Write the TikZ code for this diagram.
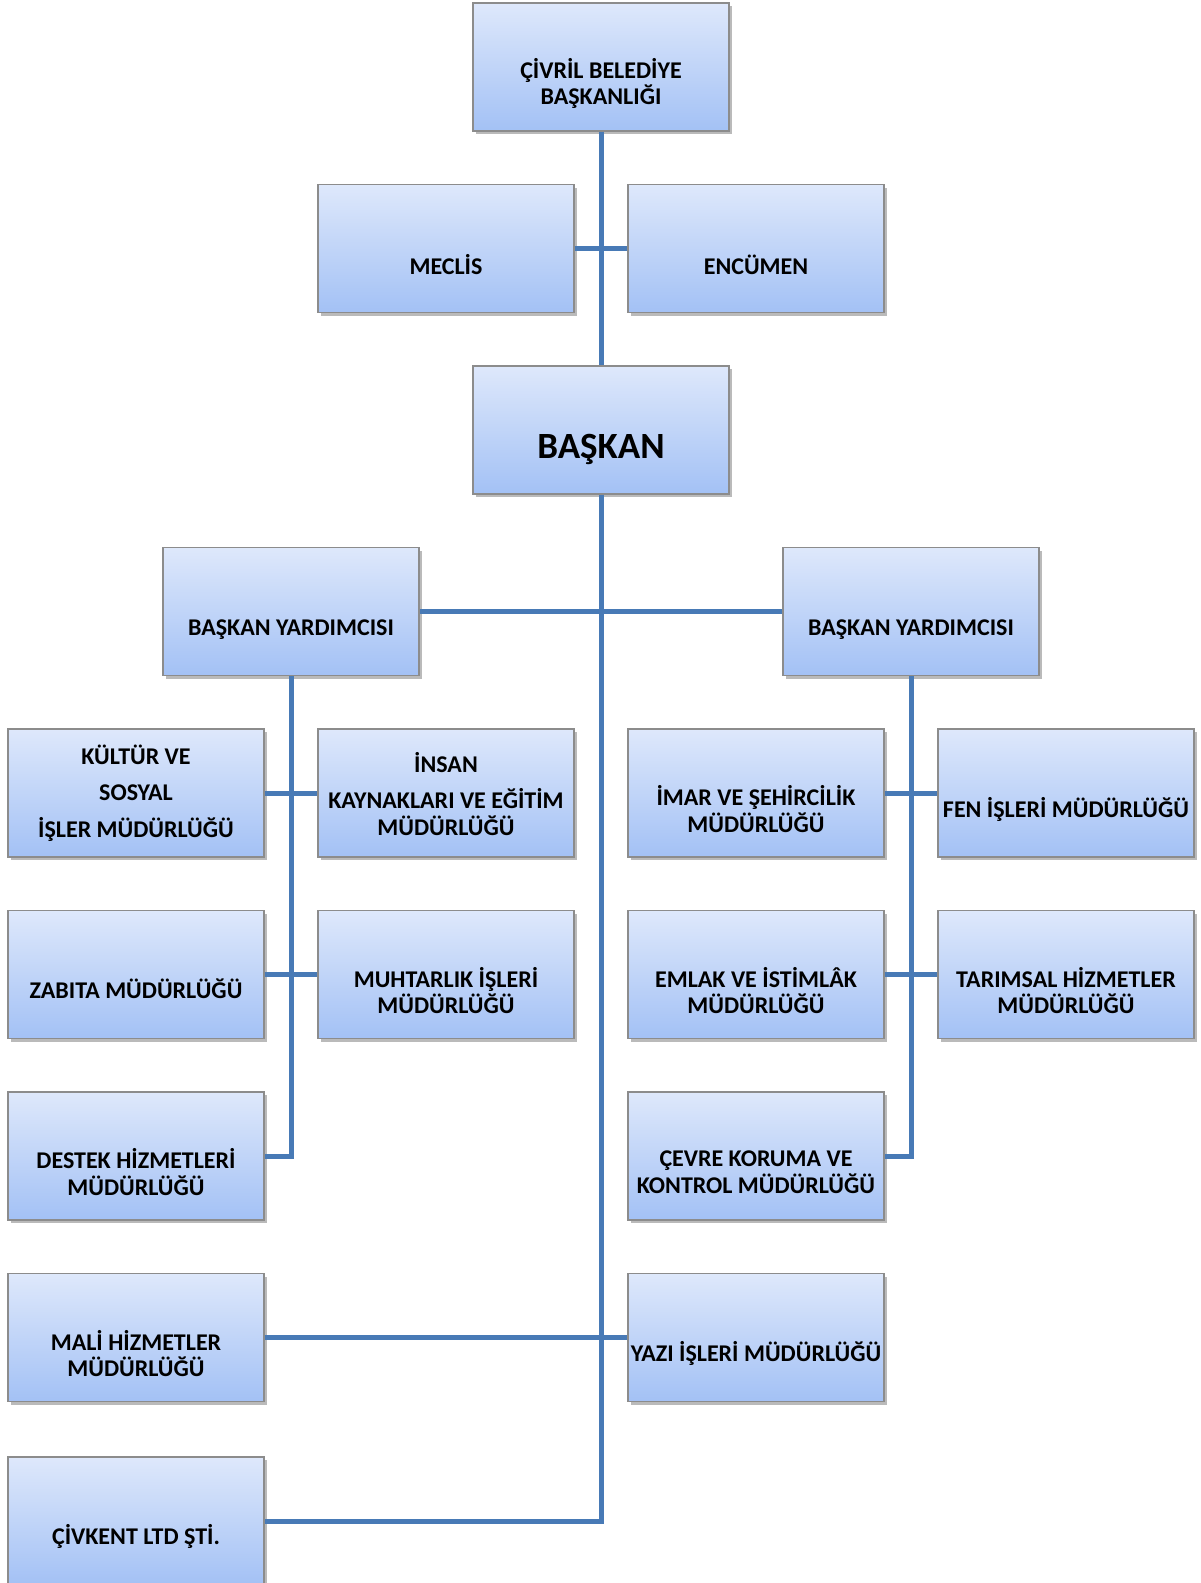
\documentclass[tikz,border=0pt]{standalone}
\usepackage{fontspec}
\setmainfont{Carlito}
\usetikzlibrary{shadows}
\definecolor{lineblue}{RGB}{72,122,182}
\definecolor{boxtop}{RGB}{222,232,251}
\definecolor{boxbot}{RGB}{163,193,245}
\definecolor{boxedge}{RGB}{140,140,140}
\begin{document}
\begin{tikzpicture}[x=1pt,y=-1pt,
  orgbox/.style={draw=boxedge, line width=1.2pt, top color=boxtop, bottom color=boxbot,
    minimum width=256pt, minimum height=128pt, inner sep=0pt,
    drop shadow={shadow xshift=2.5pt, shadow yshift=-3pt, opacity=0.45, fill=black!60}},
  lbl/.style={font=\fontsize{24}{26.5}\selectfont\bfseries, align=center, inner sep=0pt},
  biglbl/.style={font=\fontsize{37}{40}\selectfont\bfseries, align=center, inner sep=0pt},
  link/.style={draw=lineblue, line width=5pt, line join=miter}]
\useasboundingbox[fill=white] (0,0) rectangle (1200,1583);
% boxes
\node[orgbox] (top) at (601,67) {};
\node[orgbox] (meclis) at (446,248.5) {};
\node[orgbox] (encumen) at (756,248.5) {};
\node[orgbox] (baskan) at (601,430) {};
\node[orgbox] (byl) at (291,611.5) {};
\node[orgbox] (byr) at (911,611.5) {};
\node[orgbox] (kultur) at (136,793) {};
\node[orgbox] (insan) at (446,793) {};
\node[orgbox] (imar) at (756,793) {};
\node[orgbox] (fen) at (1066,793) {};
\node[orgbox] (zabita) at (136,974.5) {};
\node[orgbox] (muhtar) at (446,974.5) {};
\node[orgbox] (emlak) at (756,974.5) {};
\node[orgbox] (tarim) at (1066,974.5) {};
\node[orgbox] (destek) at (136,1156) {};
\node[orgbox] (cevre) at (756,1156) {};
\node[orgbox] (mali) at (136,1337.5) {};
\node[orgbox] (yazi) at (756,1337.5) {};
\node[orgbox] (civkent) at (136,1521) {};
% labels
\node[lbl] (top-t) at ([yshift=-16.5pt]top.center) {ÇİVRİL BELEDİYE\\BAŞKANLIĞI};
\node[lbl] (meclis-t) at ([yshift=-16pt]meclis.center) {MECLİS};
\node[lbl] (encumen-t) at ([yshift=-16pt]encumen.center) {ENCÜMEN};
\node[biglbl] (baskan-t) at ([yshift=-19pt]baskan.center) {BAŞKAN};
\node[lbl] (byl-t) at ([yshift=-18.5pt]byl.center) {BAŞKAN YARDIMCISI};
\node[lbl] (byr-t) at ([yshift=-18.5pt]byr.center) {BAŞKAN YARDIMCISI};
\node[lbl] (kultur-t) at (kultur.center) {KÜLTÜR VE\\[9.8pt]SOSYAL\\[9.8pt]İŞLER MÜDÜRLÜĞÜ};
\node[lbl] (insan-t) at ([yshift=-1pt]insan.center) {İNSAN\\[9.8pt]KAYNAKLARI VE EĞİTİM\\MÜDÜRLÜĞÜ};
\node[lbl] (imar-t) at ([yshift=-16pt]imar.center) {İMAR VE ŞEHİRCİLİK\\MÜDÜRLÜĞÜ};
\node[lbl] (fen-t) at ([yshift=-16pt]fen.center) {FEN İŞLERİ MÜDÜRLÜĞÜ};
\node[lbl] (zabita-t) at ([yshift=-14.5pt]zabita.center) {ZABITA MÜDÜRLÜĞÜ};
\node[lbl] (muhtar-t) at ([yshift=-16pt]muhtar.center) {MUHTARLIK İŞLERİ\\MÜDÜRLÜĞÜ};
\node[lbl] (emlak-t) at ([yshift=-16pt]emlak.center) {EMLAK VE İSTİMLÂK\\MÜDÜRLÜĞÜ};
\node[lbl] (tarim-t) at ([yshift=-16pt]tarim.center) {TARIMSAL HİZMETLER\\MÜDÜRLÜĞÜ};
\node[lbl] (destek-t) at ([yshift=-16pt]destek.center) {DESTEK HİZMETLERİ\\MÜDÜRLÜĞÜ};
\node[lbl] (cevre-t) at ([yshift=-16pt]cevre.center) {ÇEVRE KORUMA VE\\KONTROL MÜDÜRLÜĞÜ};
\node[lbl] (mali-t) at ([yshift=-16pt]mali.center) {MALİ HİZMETLER\\MÜDÜRLÜĞÜ};
\node[lbl] (yazi-t) at ([yshift=-16pt]yazi.center) {YAZI İŞLERİ MÜDÜRLÜĞÜ};
\node[lbl] (civkent-t) at ([yshift=-15pt]civkent.center) {ÇİVKENT LTD ŞTİ.};
% connectors
\draw[link] (top.south) -- (baskan.north);
\draw[link] (meclis.east) -- (encumen.west);
\draw[link] (byl.east) -- (byr.west);
\draw[link] (baskan.south) -- (baskan.south |- civkent.east) -- (civkent.east);
\draw[link] (byl.south) -- (byl.south |- destek.east) -- (destek.east);
\draw[link] (kultur.east) -- (insan.west);
\draw[link] (zabita.east) -- (muhtar.west);
\draw[link] (byr.south) -- (byr.south |- cevre.east) -- (cevre.east);
\draw[link] (imar.east) -- (fen.west);
\draw[link] (emlak.east) -- (tarim.west);
\draw[link] (mali.east) -- (yazi.west);
\end{tikzpicture}
\end{document}
